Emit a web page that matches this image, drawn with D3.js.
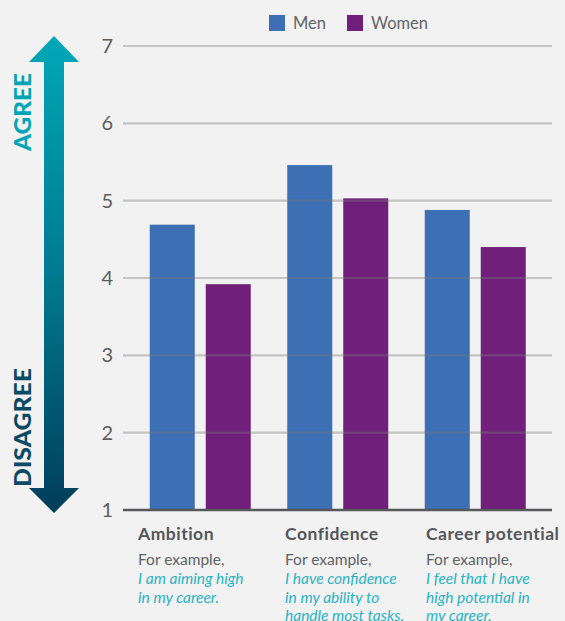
<!DOCTYPE html>
<html>
<head>
<meta charset="utf-8">
<script src="https://cdn.jsdelivr.net/npm/d3@7"></script>
<style>
  html, body { margin: 0; padding: 0; background: #f2f2f2; }
  svg { display: block; }
  text { font-family: Lato, "Open Sans", sans-serif; }
</style>
</head>
<body>
<svg id="chart" width="565" height="621"></svg>
<script>
const categories = ["Ambition", "Confidence", "Career potential"];
const seriesNames = ["Men", "Women"];
const menValues = [4.69, 5.46, 4.88];
const womenValues = [3.92, 5.03, 4.40];
const yTicks = [1, 2, 3, 4, 5, 6, 7];
const examples = [
  ["I am aiming high", "in my career."],
  ["I have confidence", "in my ability to", "handle most tasks."],
  ["I feel that I have", "high potential in", "my career."]
];
const colors = { Men: "#3d6fb5", Women: "#701f7a" };
const labelX = [138, 285, 426];

const data = categories.map((c, i) => ({ cat: c, Men: menValues[i], Women: womenValues[i] }));

const svg = d3.select("#chart");
svg.append("rect").attr("width", 565).attr("height", 621).attr("fill", "#f2f2f2");

const plotLeft = 123, plotRight = 552;
const y = d3.scaleLinear().domain([1, 7]).range([510, 46]);
const x0 = d3.scaleBand().domain(categories).range([131.5, 544]).padding(0);
const x1 = d3.scaleBand().domain(seriesNames).range([0, x0.bandwidth()])
  .paddingInner(0.196).paddingOuter(0.326);

// Bars
const g = svg.append("g");
g.selectAll("g.grp").data(data).join("g")
  .attr("class", "grp")
  .attr("transform", d => `translate(${x0(d.cat)},0)`)
  .selectAll("rect").data(d => seriesNames.map(s => ({ s, v: d[s] }))).join("rect")
  .attr("x", d => x1(d.s))
  .attr("width", x1.bandwidth())
  .attr("y", d => y(d.v))
  .attr("height", d => y(1) - y(d.v))
  .attr("fill", d => colors[d.s]);

// Gridlines on top (semi transparent)
svg.append("g").selectAll("line").data(yTicks.filter(t => t > 1)).join("line")
  .attr("x1", plotLeft).attr("x2", plotRight)
  .attr("y1", d => y(d)).attr("y2", d => y(d))
  .attr("stroke", "#7a7a7a").attr("stroke-opacity", 0.38).attr("stroke-width", 2.2);

// Baseline
svg.append("line").attr("x1", plotLeft).attr("x2", plotRight)
  .attr("y1", y(1)).attr("y2", y(1))
  .attr("stroke", "#57585c").attr("stroke-width", 2.5);

// Y axis labels
const yAxis = d3.axisLeft(y).tickValues(yTicks).tickSize(0).tickPadding(10).tickFormat(d3.format("d"));
const ya = svg.append("g").attr("transform", `translate(${plotLeft},0)`).call(yAxis);
ya.select(".domain").remove();
ya.selectAll("text").attr("font-size", 20).attr("fill", "#5b5c5f")
  .attr("font-family", "Lato, sans-serif").attr("font-weight", 400);

// Legend
const legend = svg.append("g");
const legX = [269, 347];
seriesNames.forEach((s, i) => {
  legend.append("rect").attr("x", legX[i]).attr("y", 15).attr("width", 16).attr("height", 16).attr("fill", colors[s]);
  legend.append("text").attr("x", legX[i] + 24).attr("y", 29).text(s)
    .attr("font-size", 16.5).attr("fill", "#616366");
});

// Category labels
categories.forEach((c, i) => {
  const lx = labelX[i];
  svg.append("text").attr("x", lx).attr("y", 540).text(c)
    .attr("font-size", 17.5).attr("font-weight", 700).attr("letter-spacing", 0.5).attr("fill", "#55565a");
  svg.append("text").attr("x", lx).attr("y", 565).text("For example,")
    .attr("font-size", 15.5).attr("fill", "#606164");
  examples[i].forEach((line, j) => {
    svg.append("text").attr("x", lx).attr("y", 584 + j * 18.5).text(line)
      .attr("font-size", 15.5).attr("font-style", "italic").attr("fill", "#2ab3c4");
  });
});

// Arrow
const defs = svg.append("defs");
const grad = defs.append("linearGradient").attr("id", "arrowGrad")
  .attr("gradientUnits", "userSpaceOnUse").attr("x1", 0).attr("y1", 36).attr("x2", 0).attr("y2", 513);
grad.append("stop").attr("offset", "0%").attr("stop-color", "#00a7b7");
grad.append("stop").attr("offset", "50%").attr("stop-color", "#007a90");
grad.append("stop").attr("offset", "100%").attr("stop-color", "#003d5a");

const arrowPath = d3.path();
arrowPath.moveTo(54, 36);
arrowPath.lineTo(79, 62);
arrowPath.lineTo(64, 62);
arrowPath.lineTo(64, 488);
arrowPath.lineTo(79, 488);
arrowPath.lineTo(54, 513);
arrowPath.lineTo(29, 488);
arrowPath.lineTo(44, 488);
arrowPath.lineTo(44, 62);
arrowPath.lineTo(29, 62);
arrowPath.closePath();
svg.append("path").attr("d", arrowPath.toString()).attr("fill", "url(#arrowGrad)");

svg.append("text").attr("transform", "translate(31,151) rotate(-90)")
  .text("AGREE").attr("font-size", 22).attr("font-weight", 900)
  .attr("textLength", 78).attr("lengthAdjust", "spacingAndGlyphs")
  .attr("fill", "#00a6b5");
svg.append("text").attr("transform", "translate(31,487) rotate(-90)")
  .text("DISAGREE").attr("font-size", 22).attr("font-weight", 900)
  .attr("textLength", 119).attr("lengthAdjust", "spacingAndGlyphs")
  .attr("fill", "#0b4a64");
</script>
</body>
</html>
